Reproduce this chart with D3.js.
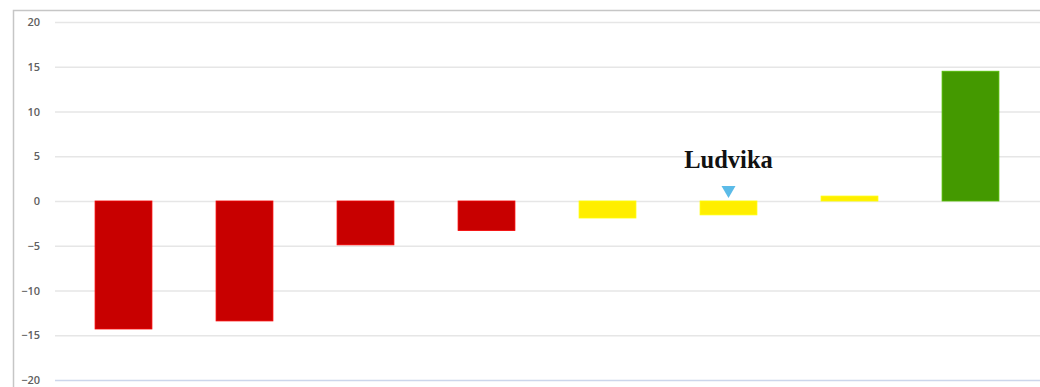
<!DOCTYPE html>
<html><head><meta charset="utf-8">
<script src="https://cdn.jsdelivr.net/npm/d3@7"></script>
<style>body{margin:0;background:#fff}svg{display:block}</style>
</head><body>
<svg id="c" width="1040" height="387"></svg>
<script>
const categories = ["k1","k2","k3","k4","k5","Ludvika","k7","k8"];
const values = [-14.3, -13.4, -4.9, -3.3, -1.9, -1.55, 0.55, 14.5];
const barColors = ["#c80000","#c80000","#c80000","#c80000","#ffee00","#ffee00","#ffee00","#449900"];
const yTicks = [20, 15, 10, 5, 0, -5, -10, -15, -20];
const highlight = "Ludvika";

(function(){
const svg = d3.select("#c");
const x = d3.scaleBand().domain(categories).range([63, 1031]).paddingInner(0.53).paddingOuter(0.265);
const y = d3.scaleLinear().domain([-20, 20]).range([380, 22]);

// frame
svg.append("path").attr("d","M13.5,387V10.5H1040").attr("fill","none").attr("stroke","#c6c6c6").attr("stroke-width",1.5);

// gridlines
const yAxis = d3.axisLeft(y).tickValues(yTicks).tickSize(-(1040-55)).tickPadding(15);
const g = svg.append("g").attr("transform","translate(55,0)").call(yAxis);
g.select(".domain").remove();
g.selectAll(".tick line").attr("stroke", d => d === -20 ? "#ccd6eb" : "#e6e6e6").attr("stroke-width",1.5);
g.selectAll(".tick text").attr("fill","#606060").attr("font-family","'Open Sans', 'DejaVu Sans', sans-serif").attr("font-size","11px").attr("font-weight","600");

// bars
svg.append("g").selectAll("rect").data(categories).join("rect")
  .attr("x", d => x(d))
  .attr("width", x.bandwidth())
  .attr("y", (d,i) => y(Math.max(0, values[i])))
  .attr("height", (d,i) => Math.abs(y(values[i]) - y(0)))
  .attr("fill", (d,i) => barColors[i])
  .attr("stroke", (d,i) => d3.color(barColors[i]).brighter(0.6))
  .attr("stroke-width", 0.8);

// highlight marker + label
const cx = x(highlight) + x.bandwidth()/2;
const hv = values[categories.indexOf(highlight)];
const barTop = y(Math.max(0, hv));
svg.append("path").attr("d", `M${cx-7},${barTop-15}L${cx+7},${barTop-15}L${cx},${barTop-3}Z`).attr("fill","#5bbbe8");
svg.append("text").attr("x", cx).attr("y", barTop-33).attr("text-anchor","middle")
  .attr("font-family","'Liberation Serif', 'DejaVu Serif', serif").attr("font-weight","bold").attr("font-size","24.5px")
  .attr("fill","#111").text(highlight);
})();
</script>
</body></html>
